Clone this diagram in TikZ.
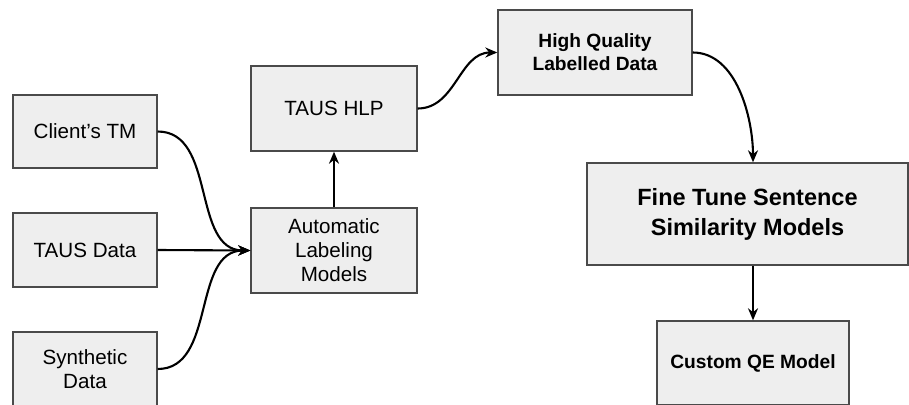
\documentclass[tikz,border=0pt]{standalone}
\usepackage{fontspec}
\setmainfont{Liberation Sans}
\usetikzlibrary{arrows.meta}
\definecolor{boxfill}{HTML}{EEEEEE}
\definecolor{boxline}{HTML}{4A4A4A}
\tikzset{
  box/.style={draw=boxline, fill=boxfill, line width=1.4pt, align=center,
    inner sep=0pt, font=\fontsize{20.6}{24}\selectfont},
  boldbox/.style={box, font=\fontsize{19.2}{23}\selectfont\bfseries},
  conn/.style={line width=2.1pt, -{Stealth[length=12pt,width=10pt]}},
}
\begin{document}
\begin{tikzpicture}[x=1pt,y=-1pt]
\useasboundingbox (0,0) rectangle (909,404);
\node[box, minimum width=144pt, minimum height=73pt] (ctm) at (85,131.5) {Client’s TM};
\node[box, minimum width=144pt, minimum height=74pt] (tdata) at (85,250) {TAUS Data};
\node[box, minimum width=144pt, minimum height=74pt] (syn) at (85,369) {Synthetic\\Data};
\node[box, minimum width=166pt, minimum height=85pt] (alm) at (334,250.5) {Automatic\\Labeling\\Models};
\node[box, minimum width=166pt, minimum height=85pt] (hlp) at (334,108.5) {TAUS HLP};
\node[boldbox, minimum width=194pt, minimum height=85pt] (hq) at (595,52.5) {High Quality\\Labelled Data};
\node[boldbox, font=\fontsize{23.5}{30}\selectfont\bfseries, minimum width=321pt, minimum height=102pt] (ft) at (747.5,214) {Fine Tune Sentence\\Similarity Models};
\node[boldbox, minimum width=192pt, minimum height=84pt] (cqe) at (753,363) {Custom QE Model};
\draw[conn] (ctm.east) to[out=0,in=180,looseness=1] (alm.west);
\draw[conn] (tdata.east) -- (alm.west);
\draw[conn] (syn.east) to[out=0,in=180,looseness=1] (alm.west);
\draw[conn] (alm.north) -- (hlp.south);
\draw[conn] (hlp.east) to[out=0,in=180] (hq.west);
\draw[conn] (hq.east) to[out=0,in=90,looseness=0.9] (ft.north -| cqe.north);
\draw[conn] (ft.south -| cqe.north) -- (cqe.north);
\end{tikzpicture}
\end{document}
